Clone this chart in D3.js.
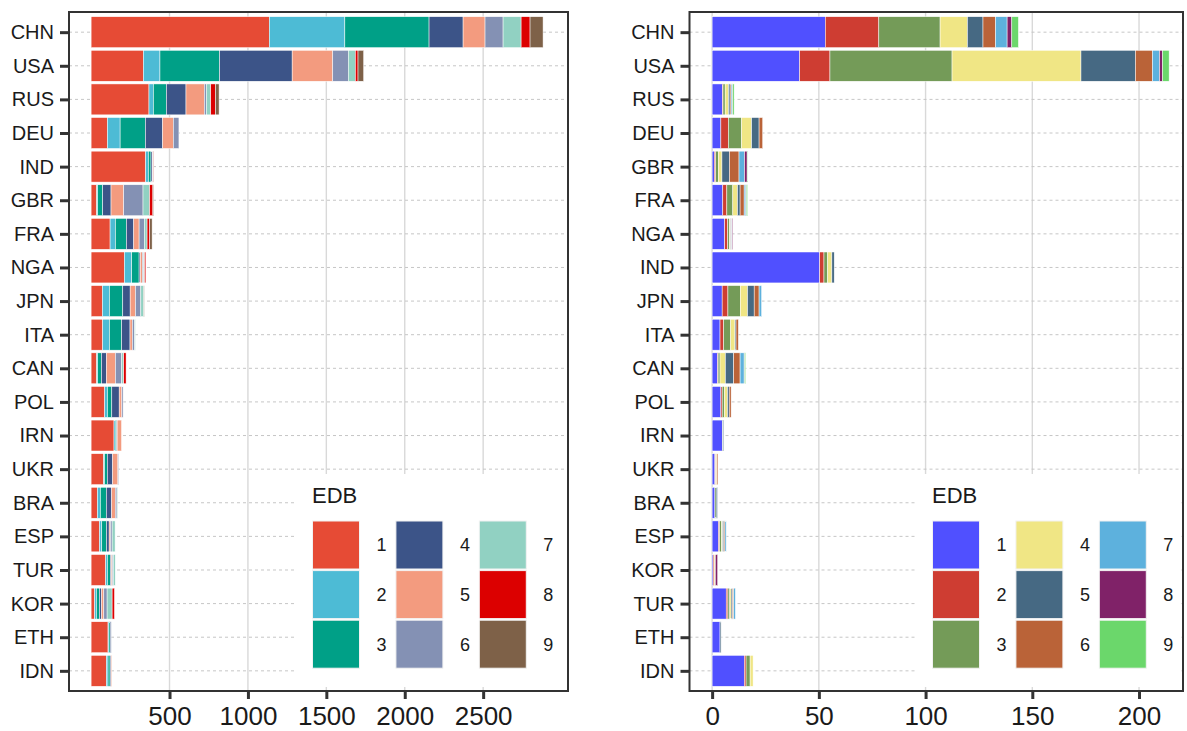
<!DOCTYPE html>
<html>
<head>
<meta charset="utf-8">
<script src="https://cdn.jsdelivr.net/npm/d3@7"></script>
<style>
  html, body { margin: 0; padding: 0; background: #fff; }
  svg { display: block; font-family: "Liberation Sans", Arial, sans-serif; }
</style>
</head>
<body>
<svg id="chart" width="1187" height="731"></svg>
<script>
// EDB groups shown in both legends
const edbLevels = ["1", "2", "3", "4", "5", "6", "7", "8", "9"];

// Left panel: countries (top to bottom) and counts per EDB group 1..9
const leftCountries = ["CHN", "USA", "RUS", "DEU", "IND", "GBR", "FRA", "NGA", "JPN", "ITA",
                       "CAN", "POL", "IRN", "UKR", "BRA", "ESP", "TUR", "KOR", "ETH", "IDN"];
const leftValues = [
  [1136, 482, 537, 217, 140, 115, 115, 57, 83],
  [333, 106, 380, 463, 259, 99, 45, 17, 36],
  [369, 28, 83, 125, 117, 13, 28, 30, 23],
  [104, 81, 161, 110, 68, 36, 0, 0, 0],
  [348, 17, 17, 8, 3, 2, 2, 2, 0],
  [36, 6, 32, 53, 81, 123, 42, 21, 4],
  [121, 34, 70, 47, 34, 34, 17, 17, 15],
  [212, 47, 47, 8, 13, 8, 6, 8, 0],
  [72, 45, 85, 47, 34, 34, 19, 0, 3],
  [74, 43, 78, 53, 15, 15, 4, 0, 0],
  [36, 6, 24, 32, 57, 40, 13, 15, 0],
  [87, 17, 28, 47, 17, 8, 0, 0, 0],
  [146, 8, 8, 4, 28, 0, 0, 0, 0],
  [80, 6, 17, 34, 34, 4, 0, 0, 0],
  [40, 19, 38, 34, 23, 11, 4, 0, 0],
  [53, 15, 30, 17, 8, 11, 19, 0, 0],
  [93, 11, 19, 6, 6, 6, 13, 0, 0],
  [23, 11, 19, 13, 15, 21, 32, 15, 0],
  [108, 6, 8, 6, 0, 0, 0, 0, 0],
  [97, 11, 13, 6, 4, 0, 0, 0, 0]
];
const leftTicks = [500, 1000, 1500, 2000, 2500];
const leftColors = ["#E64B35", "#4DBBD5", "#00A087", "#3C5488", "#F39B7F",
                    "#8491B4", "#91D1C2", "#DC0000", "#7E6148"];

// Right panel: countries (top to bottom) and values per EDB group 1..9
const rightCountries = ["CHN", "USA", "RUS", "DEU", "GBR", "FRA", "NGA", "IND", "JPN", "ITA",
                        "CAN", "POL", "IRN", "UKR", "BRA", "ESP", "KOR", "TUR", "ETH", "IDN"];
const rightValues = [
  [53.0, 25.1, 28.7, 12.8, 7.3, 5.9, 5.4, 2.2, 3.1],
  [41.0, 14.2, 57.2, 60.4, 25.5, 8.0, 3.3, 1.4, 3.1],
  [4.8, 0.3, 1.0, 1.6, 0.7, 0.5, 0.5, 0.2, 0.7],
  [4.1, 3.5, 6.2, 4.7, 3.5, 1.7, 0, 0, 0],
  [1.0, 0.7, 1.2, 1.7, 3.5, 4.5, 2.6, 1.2, 0.3],
  [5.0, 1.9, 2.8, 2.2, 1.2, 1.9, 0.8, 0.2, 0.6],
  [5.9, 1.4, 0.9, 0.3, 0.3, 0.3, 0.2, 0.3, 0],
  [50.4, 2.0, 1.7, 2.0, 1.1, 0, 0, 0, 0],
  [4.7, 2.7, 5.8, 3.4, 3.1, 2.3, 1.2, 0, 0],
  [3.7, 1.7, 3.3, 2.0, 0.5, 1.1, 0, 0, 0],
  [2.5, 0.3, 0.9, 2.5, 3.9, 3.0, 1.9, 0.2, 0.5],
  [4.1, 0.6, 1.1, 1.4, 0.8, 0.9, 0, 0, 0],
  [4.8, 0, 0.2, 0, 0.4, 0, 0, 0, 0],
  [1.3, 0.3, 0, 0.6, 0, 0.5, 0, 0, 0],
  [1.3, 0, 0.6, 0, 0.6, 0, 0, 0, 0],
  [3.0, 0.5, 0.9, 0.5, 0.6, 0.5, 0.6, 0, 0],
  [0.5, 0.5, 0, 0.5, 0, 0, 0, 1.1, 0],
  [6.6, 0.8, 0.9, 0.6, 0.6, 0.6, 0.8, 0, 0],
  [3.7, 0, 0, 0, 0.5, 0, 0, 0, 0],
  [15.1, 0.8, 1.9, 1.4, 0, 0, 0, 0, 0]
];
const rightTicks = [0, 50, 100, 150, 200];
const rightColors = ["#5050FF", "#CE3D32", "#749B58", "#F0E685", "#466983",
                     "#BA6338", "#5DB1DD", "#802268", "#6BD76B"];

const svg = d3.select("#chart");

function drawPanel(cfg) {
  const g = svg.append("g");
  const top = 12, bottom = 691;

  const x = d3.scaleLinear().domain(cfg.domain).range([cfg.left, cfg.right]);
  const y = d3.scalePoint().domain(cfg.countries).range([top, bottom]).padding(0.6);
  const barH = y.step() * 0.92;

  // rows for the stack: one object per country
  const rows = cfg.countries.map((c, i) => {
    const r = { country: c };
    edbLevels.forEach((k, j) => { r[k] = cfg.values[i][j]; });
    return r;
  });
  const series = d3.stack().keys(edbLevels)(rows);

  // panel background
  g.append("rect")
    .attr("x", cfg.left).attr("y", top)
    .attr("width", cfg.right - cfg.left).attr("height", bottom - top)
    .attr("fill", "#fff");

  // vertical major grid
  g.append("g").selectAll("line")
    .data(cfg.ticks)
    .join("line")
    .attr("x1", d => x(d)).attr("x2", d => x(d))
    .attr("y1", top).attr("y2", bottom)
    .attr("stroke", "#d9d9d9").attr("stroke-width", 1.4);

  // dashed horizontal grid at each country
  g.append("g").selectAll("line")
    .data(cfg.countries)
    .join("line")
    .attr("x1", cfg.left).attr("x2", cfg.right)
    .attr("y1", d => y(d)).attr("y2", d => y(d))
    .attr("stroke", "#c6c6c6").attr("stroke-width", 1)
    .attr("stroke-dasharray", "3,3");

  // stacked bars
  g.append("g").selectAll("g")
    .data(series)
    .join("g")
    .attr("fill", (d, i) => cfg.colors[i])
    .selectAll("rect")
    .data(d => d.filter(s => s[1] - s[0] > 0))
    .join("rect")
    .attr("x", d => x(d[0]))
    .attr("width", d => x(d[1]) - x(d[0]))
    .attr("y", d => y(d.data.country) - barH / 2)
    .attr("height", barH)
    .attr("stroke", "#fff").attr("stroke-width", 0.5);

  // legend inside the panel
  const lg = g.append("g");
  lg.append("rect")
    .attr("x", cfg.legendX).attr("y", 474)
    .attr("width", cfg.right - 2 - cfg.legendX).attr("height", 687 - 474)
    .attr("fill", "#fff");
  lg.append("text")
    .attr("x", cfg.legendX + 16).attr("y", 503)
    .attr("font-size", 22).attr("fill", "#1a1a1a")
    .text("EDB");
  const keyW = 47, keyH = 48, rowStep = 49.6, colStep = 83.4;
  const keys = lg.selectAll("g.key")
    .data(edbLevels)
    .join("g")
    .attr("class", "key")
    .attr("transform", (d, i) => {
      const col = Math.floor(i / 3), row = i % 3;
      return `translate(${cfg.legendX + 16.5 + col * colStep},${521 + row * rowStep})`;
    });
  keys.append("rect")
    .attr("width", keyW).attr("height", keyH)
    .attr("fill", (d, i) => cfg.colors[i])
    .attr("stroke", "#f2f2f2").attr("stroke-width", 1);
  keys.append("text")
    .attr("x", keyW + 17).attr("y", keyH / 2)
    .attr("dy", "0.36em")
    .attr("font-size", 18).attr("fill", "#1a1a1a")
    .text(d => d);

  // axes
  const yAxis = g.append("g")
    .attr("transform", `translate(${cfg.left},0)`)
    .call(d3.axisLeft(y).tickSize(9).tickPadding(6));
  yAxis.select(".domain").remove();
  yAxis.selectAll(".tick line").attr("stroke", "#333").attr("stroke-width", 3);
  yAxis.selectAll(".tick text")
    .attr("font-size", 20).attr("fill", "#1a1a1a")
    .attr("font-family", "'Liberation Sans', Arial, sans-serif");

  const xAxis = g.append("g")
    .attr("transform", `translate(0,${bottom})`)
    .call(d3.axisBottom(x).tickValues(cfg.ticks).tickSize(8).tickPadding(8)
      .tickFormat(d3.format("d")));
  xAxis.select(".domain").remove();
  xAxis.selectAll(".tick line").attr("stroke", "#333").attr("stroke-width", 3);
  xAxis.selectAll(".tick text")
    .attr("font-size", 26).attr("fill", "#1a1a1a")
    .attr("font-family", "'Liberation Sans', Arial, sans-serif");

  // panel border
  g.append("rect")
    .attr("x", cfg.left).attr("y", top)
    .attr("width", cfg.right - cfg.left).attr("height", bottom - top)
    .attr("fill", "none").attr("stroke", "#333").attr("stroke-width", 2);
}

drawPanel({
  countries: leftCountries, values: leftValues, ticks: leftTicks, colors: leftColors,
  domain: [-141, 3041], left: 69, right: 568, legendX: 296
});

drawPanel({
  countries: rightCountries, values: rightValues, ticks: rightTicks, colors: rightColors,
  domain: [-10.6, 220.6], left: 689.5, right: 1183, legendX: 916
});
</script>
</body>
</html>
